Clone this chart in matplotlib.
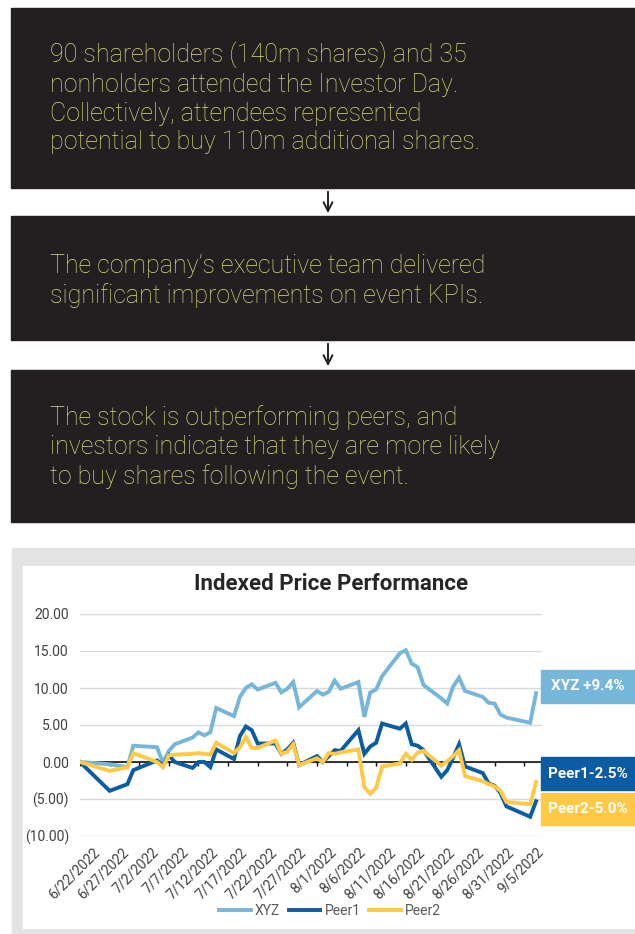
import matplotlib
matplotlib.use('Agg')
import matplotlib.pyplot as plt
import matplotlib.ticker as ticker
from matplotlib.patches import Rectangle, FancyArrowPatch
from matplotlib.transforms import ScaledTranslation
import pandas as pd

# data
dates = ['2022-06-22', '2022-06-27', '2022-06-30', '2022-07-01', '2022-07-05', '2022-07-06',
         '2022-07-07', '2022-07-08', '2022-07-11', '2022-07-12', '2022-07-13', '2022-07-14',
         '2022-07-15', '2022-07-18', '2022-07-19', '2022-07-20', '2022-07-21', '2022-07-22',
         '2022-07-25', '2022-07-26', '2022-07-27', '2022-07-28', '2022-07-29', '2022-08-01',
         '2022-08-02', '2022-08-03', '2022-08-04', '2022-08-05', '2022-08-08', '2022-08-09',
         '2022-08-10', '2022-08-11', '2022-08-12', '2022-08-15', '2022-08-16', '2022-08-17',
         '2022-08-18', '2022-08-19', '2022-08-22', '2022-08-23', '2022-08-24', '2022-08-25',
         '2022-08-26', '2022-08-29', '2022-08-30', '2022-08-31', '2022-09-01', '2022-09-02',
         '2022-09-06', '2022-09-07']
xyz = [0, -0.3, -0.7, 2.2, 2.0, -0.1, 1.5, 2.4, 3.3, 4.0, 3.6, 4.0,
       7.3, 6.2, 8.8, 10.0, 10.5, 9.8, 10.7, 9.4, 9.9, 10.8, 7.4, 9.6,
       9.1, 9.5, 11.0, 9.9, 10.8, 6.1, 9.4, 9.8, 11.6, 14.7, 15.1, 13.3,
       12.8, 10.4, 8.6, 7.9, 10.2, 11.4, 9.6, 8.8, 8.0, 7.9, 6.4, 6.0,
       5.3, 9.3]
peer1 = [0, -3.9, -3.0, -1.1, 0.2, -0.5, 0.9, 0.0, -0.8, 0.0, 0.0, -0.7,
         1.7, 0.4, 3.5, 4.8, 4.3, 2.5, 2.5, 1.1, 1.7, 2.6, -0.4, 0.8,
         0.0, 0.8, 1.6, 1.5, 4.3, 1.1, 2.1, 2.6, 5.2, 4.5, 5.2, 2.4,
         2.2, 1.6, -2.0, -1.1, 0.6, 2.4, -0.6, -1.5, -2.9, -3.2, -4.2, -6.0,
         -7.4, -5.3]
peer2 = [0, -1.2, -0.7, 1.2, 0.0, -0.7, 0.9, 1.0, 1.1, 1.2, 1.1, 1.0,
         2.6, 1.2, 2.0, 3.4, 1.9, 1.9, 2.9, 1.1, 1.4, 2.4, -0.4, 0.5,
         0.0, 1.2, 1.1, 1.3, 1.7, -3.4, -4.3, -3.5, -0.6, -0.2, 1.1, 0.3,
         1.3, 1.5, -0.5, 0.1, 0.8, 1.6, -1.9, -2.6, -3.0, -3.3, -3.9, -5.4,
         -5.7, -2.7]
series_names = ['XYZ', 'Peer1', 'Peer2']
series_colors = ['#76B6D9', '#0B5CA2', '#FFC845']
end_labels = ['XYZ +9.4%', 'Peer1-2.5%', 'Peer2-5.0%']

paragraphs = [
    '90 shareholders (140m shares) and 35\nnonholders attended the Investor Day.\n'
    'Collectively, attendees represented\npotential to buy 110m additional shares.',
    'The company\u2019s executive team delivered\nsignificant improvements on event KPIs.',
    'The stock is outperforming peers, and\ninvestors indicate that they are more likely\n'
    'to buy shares following the event.',
]

W, H = 635, 934
fig = plt.figure(figsize=(W / 100, H / 100), dpi=100)
fig.patch.set_facecolor('white')


def fx(x):
    return x / W


def fy(y):
    return 1 - y / H


def box(x0, y0, x1, y1, color, z=-1):
    fig.patches.append(Rectangle((fx(x0), fy(y1)), fx(x1 - x0), (y1 - y0) / H,
                                 transform=fig.transFigure, color=color, zorder=z))


# top dark panels
panels = [(8, 188), (216, 340), (370, 522)]
text_y = [98, 281, 447]
for (y0, y1), ty, para in zip(panels, text_y, paragraphs):
    box(11, y0, 635, y1, '#231F20')
    fig.text(fx(50), fy(ty), para, color='#D8DA7E', fontsize=18, family='Roboto',
             weight='light', va='center', ha='left', linespacing=1.25)

for ya, yb in [(189, 216), (341, 369)]:
    fig.add_artist(FancyArrowPatch((fx(328), fy(ya)), (fx(328), fy(yb)),
                                   transform=fig.transFigure, arrowstyle='->',
                                   mutation_scale=16, color='#222222', lw=1.4))

# chart panel
box(12, 548, 635, 934, '#E3E3E3')
box(23, 566, 635, 928, 'white')
fig.text(fx(331), fy(584), 'Indexed Price Performance', ha='center', va='center',
         fontsize=16, weight='bold', color='#262626', family='Roboto')

x = pd.to_datetime(dates)
ax = fig.add_axes([fx(80), fy(836), fx(542 - 80), (836 - 614) / H])
ax.set_facecolor('none')
for name, vals, col in zip(series_names, [xyz, peer1, peer2], series_colors):
    ax.plot(x, vals, color=col, lw=2.8, label=name, solid_joinstyle='miter', zorder=3)

ax.set_ylim(-10, 20)
ax.set_xlim(pd.Timestamp('2022-06-22'), pd.Timestamp('2022-09-08'))
ax.set_yticks(range(-10, 21, 5))
ax.yaxis.set_major_formatter(ticker.FuncFormatter(
    lambda v, p: f'({abs(v):.2f})' if v < 0 else f'{v:.2f}'))
ax.yaxis.grid(True, color='#D9D9D9', lw=1)
ax.set_axisbelow(True)
for s in ax.spines.values():
    s.set_visible(False)

tick_dates = pd.date_range('2022-06-22', '2022-09-05', freq='5D')
ax.set_xticks(tick_dates)
ax.set_xticklabels([f'{d.month}/{d.day}/{d.year}' for d in tick_dates])
ax.tick_params(axis='both', length=0, labelsize=10, labelcolor='#404040')
ax.tick_params(axis='y', pad=8)
for lab in ax.get_xticklabels():
    lab.set_rotation(45)
    lab.set_rotation_mode('anchor')
    lab.set_ha('right')
    lab.set_va('center')
    lab.set_family('Roboto')
    lab.set_transform(lab.get_transform() + ScaledTranslation(0.17, -0.09, fig.dpi_scale_trans))
for lab in ax.get_yticklabels():
    lab.set_family('Roboto')

# horizontal axis line at zero with small tick marks below it
ax.axhline(0, color='black', lw=1.1, zorder=2)
ax.vlines(tick_dates, -0.55, 0, color='black', lw=1, zorder=2)

fig.legend(loc='center', bbox_to_anchor=(fx(330), fy(911)), ncol=3, frameon=False,
           labelcolor='#595959', handlelength=2.3, columnspacing=0.6,
           handletextpad=0.3, prop={'family': 'Roboto', 'size': 10})

# end labels
label_boxes = [(670, 703), (757, 790), (793, 825)]
for (y0, y1), txt, col in zip(label_boxes, end_labels, series_colors):
    box(541, y0, 635, y1, col, z=3)
    fig.text(fx(588), fy((y0 + y1) / 2), txt, ha='center', va='center', color='white',
             fontsize=11, weight='bold', family='Roboto', zorder=4)

fig.savefig('out.png', dpi=100)
